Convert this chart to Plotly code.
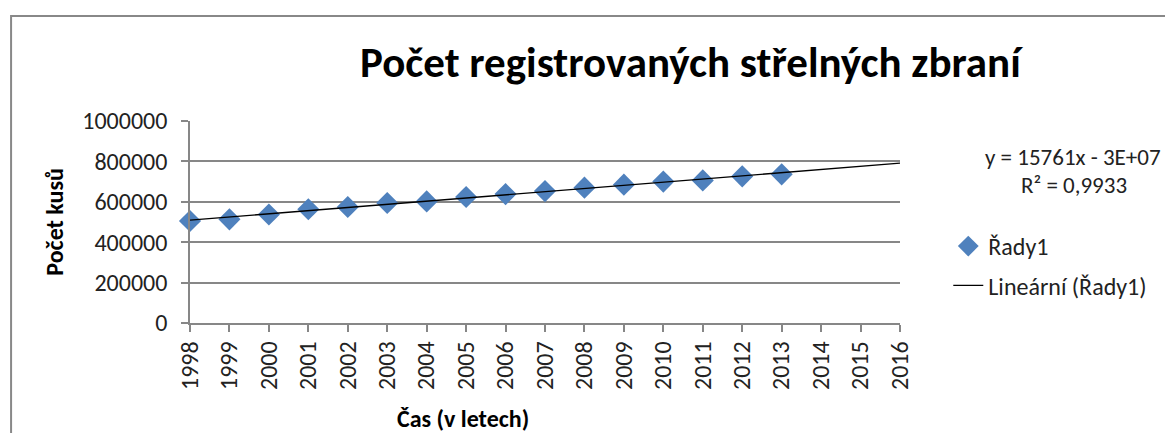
import numpy as np
import plotly.graph_objects as go

years = [1998, 1999, 2000, 2001, 2002, 2003, 2004, 2005, 2006, 2007,
         2008, 2009, 2010, 2011, 2012, 2013]
values = [505000, 513000, 537000, 563000, 574000, 594000, 602000, 624000,
          638000, 653000, 670000, 685000, 700000, 706000, 726000, 736000]
axis_years = list(range(1998, 2017))
y_ticks = [0, 200000, 400000, 600000, 800000, 1000000]

title_text = "Počet registrovaných střelných zbraní"
x_title = "Čas (v letech)"
y_title = "Počet kusů"
series_name = "Řady1"
trend_name = "Lineární (Řady1)"
eq_text = "y = 15761x - 3E+07"
r2_text = "R² = 0,9933"

coef = np.polyfit(years, values, 1)
trend_x = [axis_years[0], axis_years[-1]]
trend_y = list(np.polyval(coef, trend_x))

FONT = "Carlito, 'Liberation Sans', Arial, sans-serif"
GRID = "#878787"

fig = go.Figure()
fig.add_trace(go.Scatter(
    x=years, y=values, mode="markers", name=series_name,
    marker=dict(symbol="diamond", size=17, color="#4F81BD"),
    cliponaxis=False, legendgroup="a",
))
fig.add_trace(go.Scatter(
    x=trend_x, y=trend_y, mode="lines", name=trend_name,
    line=dict(color="black", width=1.3), legendgroup="b",
))

fig.update_layout(
    width=1165, height=425,
    margin=dict(l=182, r=273, t=113, b=110),
    paper_bgcolor="white", plot_bgcolor="white",
    font=dict(family=FONT, size=24, color="#222"),
    showlegend=True,
    legend=dict(x=1.068, xanchor="left", y=0.49, yanchor="top",
                font=dict(size=24), tracegroupgap=5,
                bgcolor="rgba(0,0,0,0)"),
    xaxis=dict(range=[axis_years[0], axis_years[-1]],
               tickvals=axis_years, ticktext=[str(v) for v in axis_years],
               tickangle=-90, showgrid=False, showline=True,
               linecolor=GRID, linewidth=1.5, ticks="outside",
               ticklen=7, tickcolor=GRID, tickwidth=1.5, zeroline=False,
               tickfont=dict(size=24)),
    yaxis=dict(range=[0, 1000000], tickvals=y_ticks,
               ticktext=[str(v) for v in y_ticks],
               showgrid=True, gridcolor=GRID, gridwidth=1.5,
               showline=True, linecolor=GRID, linewidth=1.5,
               ticks="outside", ticklen=7, tickcolor=GRID, tickwidth=1.5,
               ticklabelstandoff=9,
               zeroline=False, tickfont=dict(size=24)),
)

fig.add_annotation(text="<b>" + title_text + "</b>", xref="paper", yref="paper",
                   x=0.707, y=1.292, xanchor="center", yanchor="middle",
                   showarrow=False, font=dict(size=43, color="black"))
fig.add_annotation(text="<b>" + y_title + "</b>", xref="paper", yref="paper",
                   x=-0.192, y=0.5, textangle=-90, xanchor="center",
                   yanchor="middle", showarrow=False,
                   font=dict(size=24, color="black"))
fig.add_annotation(text="<b>" + x_title + "</b>", xref="paper", yref="paper",
                   x=0.3845, y=-0.475, xanchor="center", yanchor="middle",
                   showarrow=False, font=dict(size=24, color="black"))
fig.add_annotation(text=eq_text, xref="paper", yref="paper",
                   x=1.243, y=0.822, xanchor="center", yanchor="middle",
                   showarrow=False, font=dict(size=23, color="#222"))
fig.add_annotation(text=r2_text, xref="paper", yref="paper",
                   x=1.245, y=0.683, xanchor="center", yanchor="middle",
                   showarrow=False, font=dict(size=23, color="#222"))

fig.add_shape(type="rect", xref="paper", yref="paper",
              x0=-0.252, x1=1.6, y0=-1.2, y1=1.52,
              line=dict(color="#888888", width=2), fillcolor="rgba(0,0,0,0)",
              layer="below")

fig.write_html("out.html")
